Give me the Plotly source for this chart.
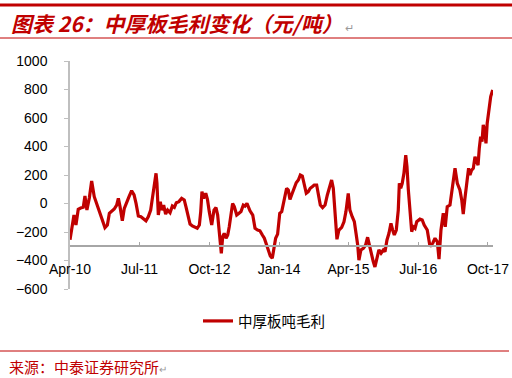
import plotly.graph_objects as go

dates = [
    "2010-04-01", "2010-04-12", "2010-04-27", "2010-05-10", "2010-05-25", "2010-06-10", "2010-06-27",
    "2010-07-08", "2010-07-21", "2010-08-06", "2010-08-21", "2010-09-07", "2010-09-27", "2010-10-15",
    "2010-10-30", "2010-11-16", "2010-12-02", "2010-12-15", "2010-12-30", "2011-01-16", "2011-02-01",
    "2011-02-12", "2011-02-23", "2011-03-10", "2011-03-23", "2011-04-08", "2011-04-23", "2011-05-10",
    "2011-05-26", "2011-06-08", "2011-06-23", "2011-07-10", "2011-07-25", "2011-08-12", "2011-08-27",
    "2011-09-12", "2011-09-22", "2011-10-06", "2011-10-17", "2011-10-23", "2011-11-01", "2011-11-14",
    "2011-11-23", "2011-12-06", "2011-12-19", "2012-01-01", "2012-01-17", "2012-02-01", "2012-02-14",
    "2012-02-27", "2012-03-15", "2012-04-02", "2012-04-19", "2012-04-30", "2012-05-12", "2012-05-27",
    "2012-06-11", "2012-06-28", "2012-07-13", "2012-07-27", "2012-08-05", "2012-08-13", "2012-08-24",
    "2012-09-07", "2012-09-18", "2012-09-30", "2012-10-16", "2012-10-31", "2012-11-13", "2012-11-24",
    "2012-12-05", "2012-12-18", "2012-12-27", "2013-01-06", "2013-01-18", "2013-01-29", "2013-02-08",
    "2013-02-19", "2013-03-02", "2013-03-13", "2013-03-29", "2013-04-13", "2013-04-26", "2013-05-11",
    "2013-05-22", "2013-06-04", "2013-06-13", "2013-06-24", "2013-07-12", "2013-07-27", "2013-08-13",
    "2013-08-28", "2013-09-13", "2013-09-26", "2013-10-11", "2013-10-22", "2013-11-04", "2013-11-17",
    "2013-11-28", "2013-12-09", "2013-12-22", "2014-01-05", "2014-01-18", "2014-02-04", "2014-02-19",
    "2014-03-02", "2014-03-13", "2014-03-28", "2014-04-10", "2014-04-23", "2014-05-07", "2014-05-20",
    "2014-06-02", "2014-06-15", "2014-06-28", "2014-07-11", "2014-07-24", "2014-08-06", "2014-08-19",
    "2014-09-04", "2014-09-15", "2014-09-28", "2014-10-13", "2014-10-29", "2014-11-13", "2014-11-26",
    "2014-12-11", "2014-12-22", "2015-01-02", "2015-01-15", "2015-01-28", "2015-02-15", "2015-03-02",
    "2015-03-15", "2015-03-30", "2015-04-10", "2015-04-25", "2015-05-09", "2015-05-20", "2015-05-31",
    "2015-06-08", "2015-06-21", "2015-07-07", "2015-07-22", "2015-08-04", "2015-08-15", "2015-08-26",
    "2015-09-10", "2015-09-21", "2015-10-04", "2015-10-17", "2015-10-31", "2015-11-15", "2015-11-26",
    "2015-12-09", "2015-12-22", "2016-01-04", "2016-01-15", "2016-01-26", "2016-02-08", "2016-02-21",
    "2016-02-28", "2016-03-08", "2016-03-18", "2016-03-29", "2016-04-10", "2016-04-18", "2016-04-27",
    "2016-05-08", "2016-05-19", "2016-05-29", "2016-06-10", "2016-06-21", "2016-07-01", "2016-07-12",
    "2016-07-27", "2016-08-09", "2016-08-29", "2016-09-16", "2016-10-04", "2016-10-19", "2016-11-03",
    "2016-11-14", "2016-11-27", "2016-12-12", "2016-12-25", "2017-01-07", "2017-01-25", "2017-02-09",
    "2017-02-27", "2017-03-14", "2017-03-31", "2017-04-12", "2017-04-22", "2017-05-03", "2017-05-18",
    "2017-05-27", "2017-06-05", "2017-06-16", "2017-06-27", "2017-07-08", "2017-07-19", "2017-07-28",
    "2017-08-05", "2017-08-14", "2017-08-23", "2017-08-31", "2017-09-09", "2017-09-18", "2017-09-26",
    "2017-10-08", "2017-10-19", "2017-11-01",
]

margin_per_ton = [
    -255, -186, -81, -151, -41, -32, -27,
    53, -46, 40, 158, 48, -11, -57,
    -116, -170, -151, -69, -57, -39, -11,
    36, -22, -121, -34, 13, 48, 90,
    60, 1, -88, -93, -104, -121, -93,
    -46, 29, 130, 212, 142, -81, 13,
    -46, -11, -74, -46, -65, -18, -27,
    6, 13, 36, 25, -22, -81, -144,
    -158, -167, -174, -151, -57, 83, 36,
    72, 30, -57, -151, -46, -29, -81,
    -221, -350, -233, -209, -244, -221, -163,
    -69, 1, -22, -81, -69, -57, -11,
    -18, 1, -22, -51, -81, -174, -186,
    -191, -221, -244, -291, -326, -368, -385,
    -326, -244, -215, -69, -57, 25, 107,
    95, 29, 72, 118, 146, 165, 200,
    193, 130, 72, 83, 107, 118, 130,
    130, 48, -11, -29, -11, 60, 118,
    165, 107, -69, -251, -186, -167, -128,
    -57, 70, -46, -93, -128, -209, -291,
    -397, -326, -314, -291, -237, -291, -361,
    -408, -445, -373, -326, -349, -326, -338,
    -256, -209, -139, -186, -221, -186, -46,
    142, 107, 142, 212, 340, 258, 95,
    -46, -198, -163, -174, -128, -116, -110,
    -116, -151, -186, -302, -279, -244, -268,
    -390, -186, -69, -163, -22, -11, 118,
    247, 142, 95, 25, -75, 36, 188,
    247, 200, 235, 247, 328, 293, 270,
    387, 469, 434, 551, 516, 422, 563,
    679, 750, 797,
]

series_name = "中厚板吨毛利"
tick_dates = ["2010-04-01", "2011-07-01", "2012-10-01", "2014-01-01",
              "2015-04-01", "2016-07-01", "2017-10-01"]
tick_labels = ["Apr-10", "Jul-11", "Oct-12", "Jan-14", "Apr-15", "Jul-16", "Oct-17"]
y_ticks = [-600, -400, -200, 0, 200, 400, 600, 800, 1000]

title_text = "图表 26：中厚板毛利变化（元/吨）"
source_text = "来源：中泰证券研究所"

RED = "#C00000"
AXIS = "#A6A6A6"

fig = go.Figure()
fig.add_trace(go.Scatter(
    x=dates, y=margin_per_ton, mode="lines", name=series_name,
    line=dict(color=RED, width=3.2),
))

# plot area: x 70..493, y 61..289 (px)
W, H = 423.0, 228.0
def px(x):
    return (x - 70) / W
def py(y):
    return (289 - y) / H

fig.update_layout(
    width=512, height=378,
    margin=dict(l=70, r=19, t=61, b=89, autoexpand=False),
    paper_bgcolor="white", plot_bgcolor="white",
    font=dict(family="Liberation Sans, Arial, sans-serif", size=14, color="black"),
    showlegend=True,
    legend=dict(orientation="h", x=px(264), xanchor="center", y=py(321), yanchor="middle",
                font=dict(family="Noto Sans CJK SC", size=14.5, color="black"),
                bgcolor="rgba(0,0,0,0)"),
    xaxis=dict(
        type="date", range=["2010-04-01", "2017-11-03"],
        tickvals=tick_dates, ticktext=tick_labels,
        anchor="free", position=300 / 1600, automargin=False,
        showline=True, linecolor=AXIS, linewidth=1.5,
        ticks="inside", ticklen=4, tickcolor=AXIS, tickwidth=1.2,
        showgrid=False, zeroline=False,
        ticklabelstandoff=10,
        tickfont=dict(size=14, color="black"),
    ),
    yaxis=dict(
        range=[-600, 1000], tickvals=y_ticks, automargin=False,
        showline=True, linecolor="#BFBFBF", linewidth=1.5,
        ticks="outside", ticklen=4, tickcolor="#BFBFBF", tickwidth=1.2,
        showgrid=False, zeroline=False,
        ticklabelstandoff=14,
        tickfont=dict(size=14, color="black"),
    ),
)

shapes = [
    dict(type="line", xref="paper", yref="paper", x0=px(0), x1=px(512), y0=py(5), y1=py(5),
         line=dict(color=RED, width=3)),
    dict(type="line", xref="paper", yref="paper", x0=px(0), x1=px(512), y0=py(38), y1=py(38),
         line=dict(color=RED, width=1)),
    dict(type="line", xref="paper", yref="paper", x0=px(0), x1=px(509), y0=py(351), y1=py(351),
         line=dict(color=RED, width=1)),
]
fig.update_layout(shapes=shapes)

fig.add_annotation(
    xref="paper", yref="paper", x=px(9), y=py(23), xanchor="left", yanchor="middle",
    text="<b><i>" + title_text + "</i></b><span style='color:#999999;font-size:11px'> ↵</span>",
    showarrow=False, font=dict(family="Noto Sans CJK SC", size=21, color=RED),
)
fig.add_annotation(
    xref="paper", yref="paper", x=px(7), y=py(366), xanchor="left", yanchor="middle",
    text=source_text + "<span style='color:#999999;font-size:10px'>↵</span>",
    showarrow=False, font=dict(family="Noto Sans CJK SC", size=15, color=RED),
)

fig.write_html("out.html",
               config={"displayModeBar": False},
               post_script="document.body.style.margin='0';document.body.style.padding='0';")
